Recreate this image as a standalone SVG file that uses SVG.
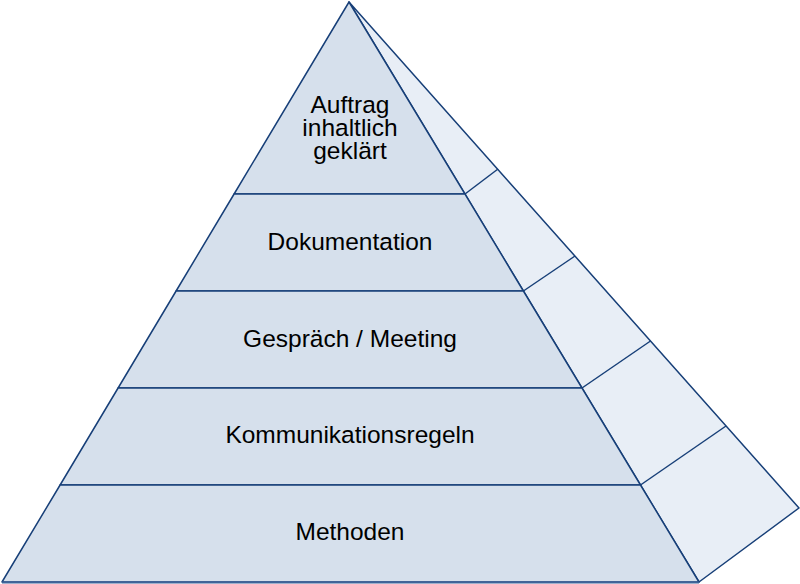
<svg xmlns="http://www.w3.org/2000/svg" width="800" height="584" viewBox="0 0 800 584">
<style>
.side{fill:#e8eef6;stroke:#173f78;stroke-width:1.5;stroke-linejoin:round}
.band{fill:#d6e0ec;stroke:#173f78;stroke-width:1.5;stroke-linejoin:round}
.lbl{font-family:"Liberation Sans",Arial,sans-serif;font-size:24.5px;fill:#000;text-anchor:middle}
</style>
<rect width="800" height="584" fill="#ffffff"/>
<g id="side-face">
<polygon class="side" points="349,2 799,508 699,582"/>
</g>
<g id="connectors" fill="none" stroke="#173f78" stroke-width="1.5">
<line x1="465" y1="194" x2="498" y2="169"/>
<line x1="523.4" y1="291" x2="575" y2="256"/>
<line x1="582" y1="388" x2="650.5" y2="341"/>
<line x1="640.5" y1="485" x2="726" y2="426"/>
</g>
<g id="level-5">
<polygon class="band" points="349,2 465,194 234.1,194"/>
<text class="lbl" x="350" y="113">Auftrag</text>
<text class="lbl" x="350" y="136">inhaltlich</text>
<text class="lbl" x="350" y="159">geklärt</text>
</g>
<g id="level-4">
<polygon class="band" points="234.1,194 465,194 523.4,291 176.1,291"/>
<text class="lbl" x="350" y="250">Dokumentation</text>
</g>
<g id="level-3">
<polygon class="band" points="176.1,291 523.4,291 582,388 118.1,388"/>
<text class="lbl" x="350" y="347">Gespräch / Meeting</text>
</g>
<g id="level-2">
<polygon class="band" points="118.1,388 582,388 640.5,485 60.1,485"/>
<text class="lbl" x="350" y="443">Kommunikationsregeln</text>
</g>
<g id="level-1">
<polygon class="band" points="60.1,485 640.5,485 699,582 2,582"/>
<text class="lbl" x="350" y="540">Methoden</text>
</g>
<line x1="2" y1="582.5" x2="699" y2="582.5" stroke="#3f6499" stroke-width="2"/>
</svg>
